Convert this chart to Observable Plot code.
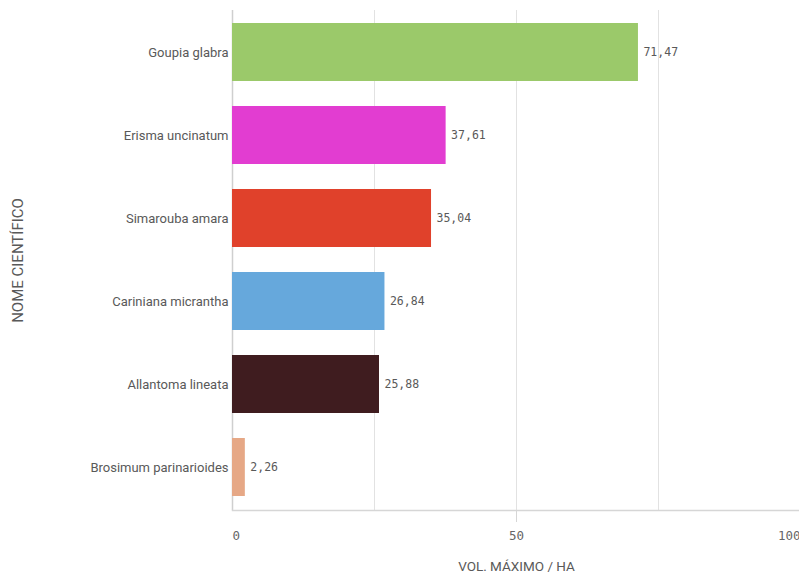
<!DOCTYPE html>
<html><head><meta charset="utf-8">
<script src="https://cdn.jsdelivr.net/npm/d3@7"></script>
<script src="https://cdn.jsdelivr.net/npm/@observablehq/plot@0.6"></script>
<style>
body{margin:0;background:#fff;}
#chart svg{overflow:visible;}
</style>
</head><body><div id="chart"></div>
<script>
const species = ["Goupia glabra","Erisma uncinatum","Simarouba amara","Cariniana micrantha","Allantoma lineata","Brosimum parinarioides"];
const volumes = [71.47, 37.61, 35.04, 26.84, 25.88, 2.26];
const colors = ["#9bc96a","#e23dd1","#e0412b","#66a8dc","#3f1c1f","#e6a886"];
const xTicks = [0, 50, 100];
const xGrid = [0, 25, 50, 75, 100];
const xTitle = "VOL. MÁXIMO / HA";
const yTitle = "NOME CIENTÍFICO";

const data = species.map((s, i) => ({species: s, vol: volumes[i]}));
const fmt = v => v.toFixed(2).replace(".", ",");
const mono = "'DejaVu Sans Mono', monospace";

const chart = Plot.plot({
  width: 799, height: 580,
  marginLeft: 232, marginRight: -1, marginTop: 10, marginBottom: 70,
  style: {fontFamily: "Roboto, sans-serif", color: "#595959", background: "#fff"},
  x: {domain: [0, 100], axis: null},
  y: {domain: species, paddingInner: 0.3, paddingOuter: 0.15, align: 0.5, axis: null},
  color: {domain: species, range: colors},
  marks: [
    Plot.ruleX(xGrid, {stroke: "#e2e2e2", strokeWidth: 1}),
    Plot.ruleX([0], {stroke: "#cfcfcf", strokeWidth: 1.5}),
    Plot.frame({anchor: "bottom", stroke: "#d6d6d6", strokeWidth: 1.5}),
    Plot.axisX({ticks: [50], tickSize: 12, tickFormat: () => "", label: null, stroke: "#d6d6d6", anchor: "bottom"}),
    Plot.barX(data, {y: "species", x: "vol", fill: "species"}),
    Plot.text(data, {y: "species", x: "vol", text: d => fmt(d.vol), dx: 5, textAnchor: "start",
      fontFamily: mono, fontSize: 11.5, fill: "#595959", letterSpacing: "-0.3px"}),
    Plot.text(data, {y: "species", frameAnchor: "left", text: "species", dx: -4, textAnchor: "end",
      fontSize: 13, fill: "#595959", letterSpacing: "-0.6px"}),
    Plot.text(xTicks.filter(d => d === 0), {x: d => d, frameAnchor: "bottom", dy: 29, text: d => String(d),
      textAnchor: "start", fontFamily: mono, fontSize: 12.5, fill: "#666"}),
    Plot.text(xTicks.filter(d => d > 0 && d < 100), {x: d => d, frameAnchor: "bottom", dy: 29, text: d => String(d),
      textAnchor: "middle", fontFamily: mono, fontSize: 12.5, fill: "#666"}),
    Plot.text(xTicks.filter(d => d === 100), {x: d => d, frameAnchor: "bottom", dy: 29, text: d => String(d),
      textAnchor: "end", fontFamily: mono, fontSize: 12.5, fill: "#666"}),
    Plot.text([xTitle], {frameAnchor: "bottom", dy: 60, text: d => d, fontSize: 13.5, fill: "#595959",
      letterSpacing: "-0.4px"}),
    Plot.text([yTitle], {frameAnchor: "left", dx: -214, rotate: -90, textAnchor: "middle", text: d => d,
      fontSize: 15, fill: "#595959", letterSpacing: "0.5px"})
  ]
});
document.getElementById("chart").append(chart);
</script>
</body></html>
